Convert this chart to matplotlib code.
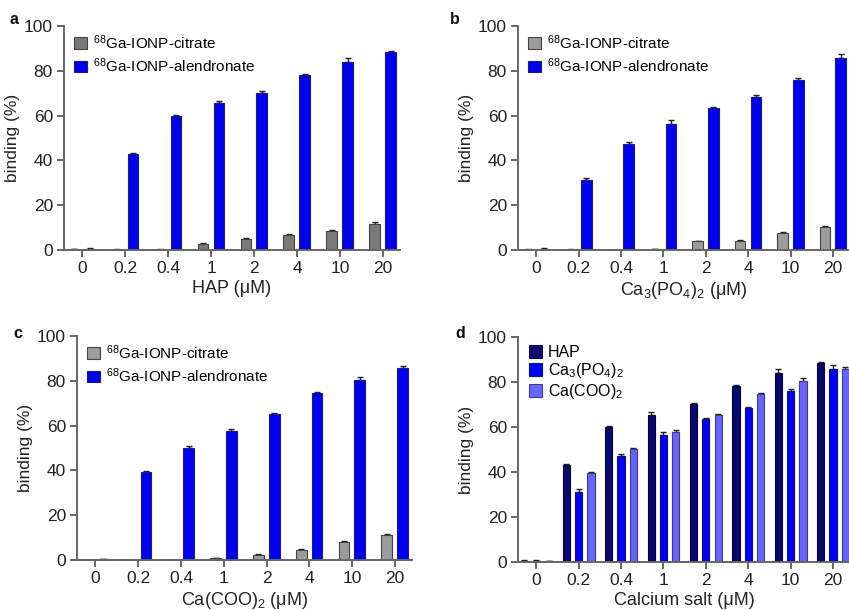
import numpy as np
import matplotlib
matplotlib.use("Agg")
import matplotlib.pyplot as plt

plt.rcParams['font.family'] = ['Liberation Sans', 'DejaVu Sans']
plt.rcParams['mathtext.fontset'] = 'custom'
plt.rcParams['mathtext.rm'] = 'Liberation Sans'
plt.rcParams['mathtext.it'] = 'Liberation Sans'
plt.rcParams['mathtext.default'] = 'regular'

concs = ["0", "0.2", "0.4", "1", "2", "4", "10", "20"]

# panel a - HAP
hap_citrate = [0.3, 0.2, 0.2, 2.8, 4.8, 6.8, 8.3, 11.7]
hap_citrate_err = [0.2, 0.2, 0.2, 0.4, 0.4, 0.5, 0.5, 0.6]
hap_alen = [0.5, 43.0, 59.8, 65.5, 70.2, 78.2, 84.0, 88.5]
hap_alen_err = [0.3, 0.5, 0.5, 1.2, 0.6, 0.5, 1.8, 0.5]

# panel b - Ca3(PO4)2
po4_citrate = [0.2, 0.2, 0.1, 0.4, 3.8, 4.2, 7.4, 10.3]
po4_citrate_err = [0.1, 0.1, 0.1, 0.2, 0.3, 0.4, 0.5, 0.4]
po4_alen = [0.4, 31.3, 47.2, 56.4, 63.5, 68.3, 75.8, 85.8]
po4_alen_err = [0.3, 1.0, 0.8, 1.5, 0.5, 0.8, 1.0, 1.8]

# panel c - Ca(COO)2
coo_citrate = [0.1, 0.1, 0.1, 0.7, 2.3, 4.4, 8.0, 11.0]
coo_citrate_err = [0.1, 0.1, 0.1, 0.3, 0.3, 0.3, 0.3, 0.4]
coo_alen = [0.3, 39.5, 50.2, 57.6, 65.3, 74.5, 80.5, 85.6]
coo_alen_err = [0.2, 0.4, 0.6, 1.0, 0.5, 0.5, 1.3, 1.0]

AX_COL = "#666666"
TXT = "#222222"


def estilo(ax, xlabel):
    for s in ["top", "right"]:
        ax.spines[s].set_visible(False)
    for s in ["left", "bottom"]:
        ax.spines[s].set_color(AX_COL)
        ax.spines[s].set_linewidth(1.4)
    ax.set_ylim(0, 100)
    ax.set_yticks([0, 20, 40, 60, 80, 100])
    ax.set_xticks(np.arange(len(concs)))
    ax.set_xticklabels(concs)
    ax.set_xlim(-0.43, 7.4)
    ax.tick_params(axis="both", direction="out", color=AX_COL, width=1.4, length=5,
                   labelsize=12.5, labelcolor=TXT, pad=3)
    ax.set_ylabel("binding (%)", fontsize=12.5, color=TXT, labelpad=3)
    ax.set_xlabel(xlabel, fontsize=13, color=TXT, labelpad=3)


def barras(ax, x, vals, errs, w, color, edge, label):
    ax.errorbar(x, vals, yerr=[np.zeros(len(vals)), errs], fmt="none", ecolor=TXT,
                elinewidth=1.0, capsize=2.5, capthick=1.0, zorder=1)
    ax.bar(x, vals, width=w, color=color, edgecolor=edge, linewidth=0.8, label=label, zorder=2)


def etiqueta(px, py, letra):
    fig.text(px / 849, 1 - py / 610, letra, fontsize=11.5, fontweight="bold",
             va="center", ha="left", color="#111111")


fig = plt.figure(figsize=(8.49, 6.10), dpi=100)

x = np.arange(len(concs))
paneles = [
    ([64, 26, 400, 250], hap_citrate, hap_citrate_err, hap_alen, hap_alen_err, "#7a7a7a",
     "HAP (μM)", "a", (10, 20)),
    ([518, 26, 850, 250], po4_citrate, po4_citrate_err, po4_alen, po4_alen_err, "#9c9c9c",
     "Ca$_3$(PO$_4$)$_2$ (μM)", "b", (450, 20)),
    ([77, 336, 412, 560], coo_citrate, coo_citrate_err, coo_alen, coo_alen_err, "#9c9c9c",
     "Ca(COO)$_2$ (μM)", "c", (13, 333)),
]

for (l, t, r, b), cit, cit_e, alen, alen_e, gcol, xl, pan, pos in paneles:
    ax = fig.add_axes([l / 849, 1 - b / 610, (r - l) / 849, (b - t) / 610])
    barras(ax, x - 0.19, cit, cit_e, 0.25, gcol, "#444444", "$^{68}$Ga-IONP-citrate")
    barras(ax, x + 0.18, alen, alen_e, 0.25, "#0000f0", "#1a1a80", "$^{68}$Ga-IONP-alendronate")
    estilo(ax, xl)
    etiqueta(pos[0], pos[1], pan)
    ax.legend(loc="upper left", bbox_to_anchor=(-0.01, 1.03), frameon=False, fontsize=11,
              handlelength=0.8, handleheight=0.8, handletextpad=0.4, labelspacing=0.3,
              borderaxespad=0.5)

# panel d - all salts
ax = fig.add_axes([518 / 849, 1 - 562 / 610, (850 - 518) / 849, (562 - 337) / 610])
barras(ax, x - 0.29, hap_alen, hap_alen_err, 0.17, "#08086e", "#05053a", "HAP")
barras(ax, x, po4_alen, po4_alen_err, 0.17, "#0000ff", "#101070", "Ca$_3$(PO$_4$)$_2$")
barras(ax, x + 0.29, coo_alen, coo_alen_err, 0.17, "#6666ff", "#3a3a90", "Ca(COO)$_2$")
estilo(ax, "Calcium salt (μM)")
etiqueta(455, 333, "d")
ax.legend(loc="upper left", bbox_to_anchor=(-0.01, 1.03), frameon=False, fontsize=11.5,
          handlelength=0.8, handleheight=0.9, handletextpad=0.4, labelspacing=0.1)

fig.savefig("out.png", dpi=100)
